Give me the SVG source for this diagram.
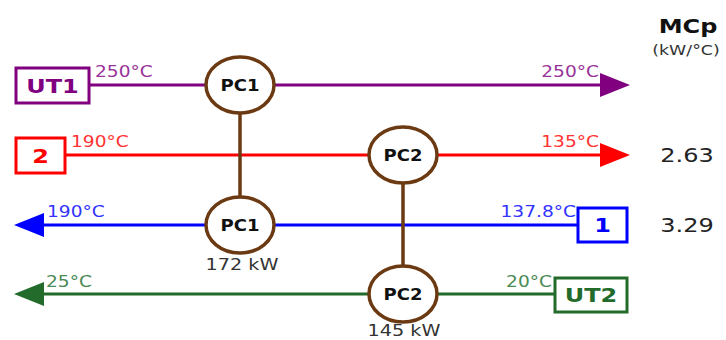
<svg xmlns="http://www.w3.org/2000/svg" width="726" height="340" viewBox="0 0 726 340">
<style>
text{font-family:"DejaVu Sans","Liberation Sans",sans-serif}
.pc{fill:#fff;stroke:#6B3A12;stroke-width:3.5}
.pct{font-size:15px;font-weight:bold;fill:#111;text-anchor:middle}
.lbl{font-size:15.5px}
.e{text-anchor:end}
.box{fill:#fff;stroke-width:3}
.bt{font-size:20px;font-weight:bold;text-anchor:middle}
.kw{font-size:16px;fill:#333;text-anchor:middle}
.num{font-size:20px;fill:#222;text-anchor:middle}
</style>
<rect width="726" height="340" fill="#fff"/>
<g id="connectors">
  <line x1="89" y1="85" x2="605" y2="85" stroke="#800080" stroke-width="3"/>
  <polygon points="600,73 630,85 600,97" fill="#800080"/>
  <line x1="65" y1="155" x2="605" y2="155" stroke="#FF0000" stroke-width="3"/>
  <polygon points="600,143 630,155 600,167" fill="#FF0000"/>
  <line x1="40" y1="225" x2="578" y2="225" stroke="#0000FF" stroke-width="3"/>
  <polygon points="44,213 14,225 44,237" fill="#0000FF"/>
  <line x1="40" y1="294" x2="555" y2="294" stroke="#236B2A" stroke-width="3"/>
  <polygon points="44,282 14,294 44,306" fill="#236B2A"/>
  <line x1="240" y1="113" x2="240" y2="197" stroke="#6B3A12" stroke-width="3.5"/>
  <line x1="403" y1="182" x2="403" y2="266" stroke="#6B3A12" stroke-width="3.5"/>
</g>
<g id="UT1"><rect class="box" x="16" y="68" width="73" height="35" stroke="#800080"/><text class="bt" transform="translate(52.5,93) scale(1.2,1)" fill="#800080">UT1</text></g>
<g id="S2"><rect class="box" x="16" y="138" width="49" height="35" stroke="#FF0000"/><text class="bt" transform="translate(40.5,163) scale(1.2,1)" fill="#FF0000">2</text></g>
<g id="S1"><rect class="box" x="578" y="208" width="49" height="34" stroke="#0000FF"/><text class="bt" transform="translate(602.5,232) scale(1.2,1)" fill="#0000FF">1</text></g>
<g id="UT2"><rect class="box" x="555" y="278" width="72" height="34" stroke="#236B2A"/><text class="bt" transform="translate(591,302) scale(1.2,1)" fill="#236B2A">UT2</text></g>
<g id="PC1a"><ellipse class="pc" cx="240" cy="85" rx="34" ry="28"/><text class="pct" transform="translate(240,90.5) scale(1.2,1)">PC1</text></g>
<g id="PC1b"><ellipse class="pc" cx="240" cy="225" rx="34" ry="28"/><text class="pct" transform="translate(240,230.5) scale(1.2,1)">PC1</text></g>
<g id="PC2a"><ellipse class="pc" cx="403" cy="155" rx="34" ry="28"/><text class="pct" transform="translate(403,160.5) scale(1.2,1)">PC2</text></g>
<g id="PC2b"><ellipse class="pc" cx="403" cy="294" rx="34" ry="28"/><text class="pct" transform="translate(403,299.5) scale(1.2,1)">PC2</text></g>
<g id="labels">
  <text class="lbl" transform="translate(95,77) scale(1.2,1)" fill="#993399">250°C</text>
  <text class="lbl e" transform="translate(599,77) scale(1.2,1)" fill="#993399">250°C</text>
  <text class="lbl" transform="translate(71,147) scale(1.2,1)" fill="#FF3333">190°C</text>
  <text class="lbl e" transform="translate(599,147) scale(1.2,1)" fill="#FF3333">135°C</text>
  <text class="lbl" transform="translate(47,217) scale(1.2,1)" fill="#3333FF">190°C</text>
  <text class="lbl e" transform="translate(576,217) scale(1.2,1)" fill="#3333FF">137.8°C</text>
  <text class="lbl" transform="translate(46,287) scale(1.2,1)" fill="#4A8A55">25°C</text>
  <text class="lbl e" transform="translate(552,287) scale(1.2,1)" fill="#4A8A55">20°C</text>
  <text class="kw" transform="translate(242,270) scale(1.2,1)">172 kW</text>
  <text class="kw" transform="translate(404,336) scale(1.2,1)">145 kW</text>
  <text transform="translate(688,33) scale(1.2,1)" font-size="20" font-weight="bold" fill="#111" text-anchor="middle">MCp</text>
  <text transform="translate(686,55) scale(1.2,1)" font-size="14.5" fill="#333" text-anchor="middle">(kW/°C)</text>
  <text class="num" transform="translate(687,162) scale(1.2,1)">2.63</text>
  <text class="num" transform="translate(687,232) scale(1.2,1)">3.29</text>
</g>
</svg>
